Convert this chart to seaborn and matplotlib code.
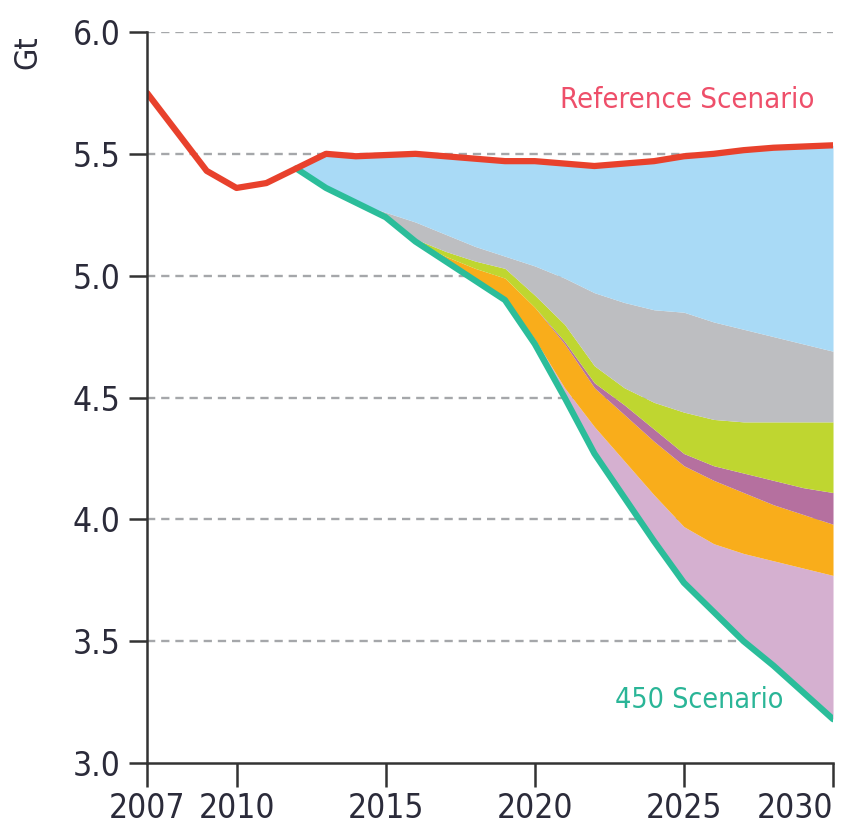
import numpy as np
import pandas as pd
import seaborn as sns
import matplotlib.pyplot as plt

# reference scenario, full period
years_ref = list(range(2007, 2031))
reference = [5.75, 5.59, 5.43, 5.36, 5.38, 5.44, 5.50, 5.49, 5.495, 5.50, 5.49, 5.48,
             5.47, 5.47, 5.46, 5.45, 5.46, 5.47, 5.49, 5.50, 5.515, 5.525, 5.53, 5.535]

# 450 scenario and upper edges of the abatement wedges, 2012-2030
years = list(range(2012, 2031))
s450 = [5.44, 5.36, 5.30, 5.24, 5.14, 5.06, 4.98, 4.90, 4.72, 4.50,
        4.27, 4.09, 3.91, 3.74, 3.62, 3.50, 3.40, 3.29, 3.18]
lilac_top = [5.44, 5.36, 5.30, 5.24, 5.14, 5.06, 4.98, 4.91, 4.74, 4.54,
             4.38, 4.24, 4.10, 3.97, 3.90, 3.86, 3.83, 3.80, 3.77]
orange_top = [5.44, 5.36, 5.30, 5.24, 5.14, 5.08, 5.03, 4.99, 4.87, 4.72,
              4.54, 4.43, 4.32, 4.22, 4.16, 4.11, 4.06, 4.02, 3.98]
purple_top = [5.44, 5.36, 5.30, 5.24, 5.14, 5.08, 5.03, 4.99, 4.87, 4.73,
              4.56, 4.47, 4.37, 4.27, 4.22, 4.19, 4.16, 4.13, 4.11]
lime_top = [5.44, 5.36, 5.30, 5.24, 5.15, 5.10, 5.06, 5.03, 4.92, 4.80,
            4.63, 4.54, 4.48, 4.44, 4.41, 4.40, 4.40, 4.40, 4.40]
gray_top = [5.44, 5.36, 5.30, 5.26, 5.22, 5.17, 5.12, 5.08, 5.04, 4.99,
            4.93, 4.89, 4.86, 4.85, 4.81, 4.78, 4.75, 4.72, 4.69]

y_ticks = [3.0, 3.5, 4.0, 4.5, 5.0, 5.5, 6.0]
x_ticks = [2007, 2010, 2015, 2020, 2025, 2030]

sns.set_style('white')
plt.rcParams['font.family'] = ['DejaVu Sans']
plt.rcParams['font.stretch'] = 'condensed'

fig = plt.figure(figsize=(8.68, 8.33), dpi=100)
ax = fig.add_axes([0.1694, 0.084, 0.7903, 0.8776])

ref_tail = pd.Series(reference, index=years_ref).loc[2012:].values
edges = [s450, lilac_top, orange_top, purple_top, lime_top, gray_top, list(ref_tail)]
colors = ['#d5b0d0', '#f9ad1b', '#b5709f', '#bfd630', '#bdbec1', '#a9daf6']
for lo, hi, c in zip(edges[:-1], edges[1:], colors):
    ax.fill_between(years, lo, hi, color=c, linewidth=0, zorder=2)

df_ref = pd.DataFrame({'year': years_ref, 'Gt': reference})
df_450 = pd.DataFrame({'year': years, 'Gt': s450})
sns.lineplot(data=df_450, x='year', y='Gt', ax=ax, color='#2bbd9a', linewidth=4.5, zorder=4)
sns.lineplot(data=df_ref, x='year', y='Gt', ax=ax, color='#e8412c', linewidth=4.5, zorder=5)

for yv in y_ticks[1:]:
    ax.axhline(yv, color='#a5a7aa', linestyle=(0, (3.5, 2.5)), linewidth=1.7, zorder=1)

ax.set_xlim(2007, 2030)
ax.set_ylim(3.0, 6.0)
ax.set_xticks(x_ticks)
ax.set_yticks(y_ticks)
ax.set_yticklabels(['%.1f' % v for v in y_ticks])
ax.set_xlabel('')
ax.set_ylabel('')
for side in ['top', 'right']:
    ax.spines[side].set_visible(False)
for side in ['left', 'bottom']:
    ax.spines[side].set_color('#333333')
    ax.spines[side].set_linewidth(1.8)
    ax.spines[side].set_zorder(6)
ax.tick_params(axis='y', direction='out', length=13, width=1.8, color='#333333',
               labelsize=24, labelcolor='#2b2b3a', pad=6, left=True)
ax.tick_params(axis='x', direction='out', length=17, width=1.8, color='#333333',
               labelsize=24, labelcolor='#2b2b3a', pad=4, bottom=True)
for lbl in ax.get_xticklabels():
    if lbl.get_text() == '2030':
        lbl.set_horizontalalignment('right')
        lbl.set_x(2031.1)

fig.text(0.032, 0.937, 'Gt', rotation=90, fontsize=23, color='#2b2b3a',
         ha='center', va='center')
ax.text(2025.1, 5.72, 'Reference Scenario', fontsize=21, color='#ee4f6a',
        ha='center', va='center', zorder=7)
ax.text(2025.5, 3.26, '450 Scenario', fontsize=20.5, color='#2ab597',
        ha='center', va='center', zorder=7)

fig.savefig('out.png', dpi=100)
